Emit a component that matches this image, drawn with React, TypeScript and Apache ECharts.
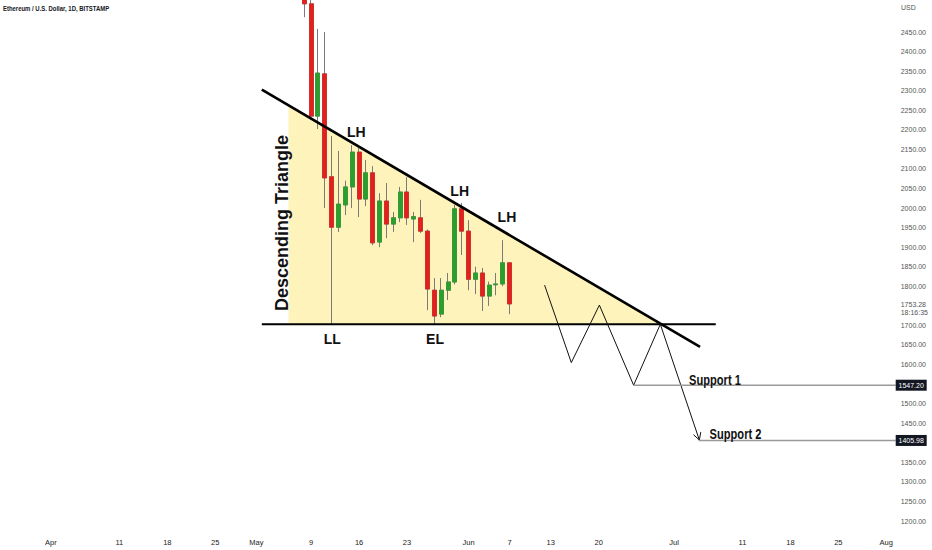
import React, { useEffect, useRef } from "react";
import * as echarts from "echarts";

// ---------- data ----------
const candleDates = [
  "2022-05-08", "2022-05-09", "2022-05-10", "2022-05-11", "2022-05-12", "2022-05-13", "2022-05-14",
  "2022-05-15", "2022-05-16", "2022-05-17", "2022-05-18", "2022-05-19", "2022-05-20", "2022-05-21",
  "2022-05-22", "2022-05-23", "2022-05-24", "2022-05-25", "2022-05-26", "2022-05-27", "2022-05-28",
  "2022-05-29", "2022-05-30", "2022-05-31", "2022-06-01", "2022-06-02", "2022-06-03", "2022-06-04",
  "2022-06-05", "2022-06-06", "2022-06-07",
];
const openPrices = [2640, 2522, 2235, 2343, 2080, 1951, 2008, 2054, 2143, 2023, 2090, 1913, 2018, 1959, 1975, 2041, 1972, 1975, 1941, 1790, 1729, 1790, 1811, 1998, 1941, 1818, 1834, 1775, 1804, 1806, 1860];
const closePrices = [2522, 2235, 2345, 2077, 1951, 2010, 2054, 2143, 2023, 2090, 1911, 2018, 1959, 1975, 2041, 1975, 1978, 1941, 1793, 1724, 1790, 1811, 1998, 1941, 1818, 1834, 1775, 1803, 1806, 1860, 1755];
const lowPrices = [2488, 2225, 2202, 2000, 1701, 1939, 1982, 2000, 1977, 2005, 1905, 1900, 1923, 1939, 1964, 1957, 1913, 1936, 1739, 1704, 1721, 1765, 1805, 1880, 1790, 1780, 1737, 1750, 1777, 1800, 1729];
const highPrices = [2650, 2535, 2458, 2450, 2184, 2146, 2070, 2161, 2153, 2123, 2107, 2038, 2064, 1990, 2054, 2079, 1990, 2021, 1945, 1821, 1821, 1834, 2008, 2013, 1969, 1850, 1847, 1812, 1834, 1918, 1860];

const xTickDates = [
  "2022-04-01", "2022-04-11", "2022-04-18", "2022-04-25", "2022-05-01", "2022-05-09", "2022-05-16",
  "2022-05-23", "2022-06-01", "2022-06-07", "2022-06-13", "2022-06-20", "2022-07-01", "2022-07-11",
  "2022-07-18", "2022-07-25", "2022-08-01",
];
const xTickLabels = ["Apr", "11", "18", "25", "May", "9", "16", "23", "Jun", "7", "13", "20", "Jul", "11", "18", "25", "Aug"];
const hiddenYLabels = [2500, 1750, 1550, 1400, 1150];

// drawings, as [day offset from Apr 1, price]
const trendLine = [[30.8, 2302.6], [94.8, 1645]];
const baseLine = [[30.8, 1703], [97.1, 1703]];
const triangleFill = [[34.7, 2262.5], [34.7, 1703], [89.0, 1703]];
const projectionPath = [[72.1, 1803], [76.0, 1605], [80.1, 1752], [85.1, 1547.2], [89.0, 1703], [94.7, 1407]];

const supportStartDays = [85.1, 94.6];
const supportPrices = [1547.2, 1405.98];
const supportBoxLabels = ["1547.20", "1405.98"];

const swingTexts = ["LH", "LH", "LH", "LL", "EL"];
const swingDays = [44.6, 59.7, 66.6, 41.1, 56.1];
const swingPrices = [2194, 2044, 1976, 1665, 1665];

const supportTexts = ["Support 1", "Support 2"];
const supportTextDays = [93.2, 96.2];
const supportTextPrices = [1562, 1422];

const patternTitle = ["Descending Triangle"];
const patternTitleDay = [33.8];
const patternTitlePrice = [1962];

const lastPrice = [1753.28];
const lastPriceText = ["1753.28"];
const countdownText = ["18:16:35"];

// ---------- helpers ----------
const START = Date.UTC(2022, 3, 1);
const dayOf = (s: string) => (Date.parse(s) - START) / 86400000;
const xTickDays = xTickDates.map(dayOf);

const GREEN = "#2aa02c";
const RED = "#e3201b";

export default function App() {
  const ref = useRef<HTMLDivElement>(null);

  useEffect(() => {
    if (!ref.current) return;
    const chart = echarts.init(ref.current, null, { renderer: "svg" });

    const candleData = candleDates.map((d, i) => [dayOf(d), openPrices[i], closePrices[i], lowPrices[i], highPrices[i]]);
    const bodyData = candleDates.map((d, i) => [
      dayOf(d),
      openPrices[i],
      closePrices[i],
      Math.min(openPrices[i], closePrices[i]),
      Math.max(openPrices[i], closePrices[i]),
    ]);

    const empty = { type: "group", children: [] };

    const option: any = {
      animation: false,
      backgroundColor: "#ffffff",
      graphic: [
        {
          type: "text",
          x: 3,
          y: 8,
          scaleX: 0.85,
          style: {
            text: "Ethereum / U.S. Dollar, 1D, BITSTAMP",
            fontSize: 7,
            fontWeight: "bold",
            fill: "#131722",
            fontFamily: "Arial, sans-serif",
            verticalAlign: "middle",
          },
        },
        {
          type: "text",
          x: 901,
          y: 7.5,
          style: { text: "USD", fontSize: 7, fill: "#555", fontFamily: "Arial, sans-serif", verticalAlign: "middle" },
        },
      ],
      grid: { left: 0, top: 0, width: 889.7, height: 540.6, containLabel: false },
      xAxis: {
        type: "value",
        min: -7,
        max: 122.5,
        interval: 1,
        offset: -2,
        axisLine: { show: false },
        axisTick: { show: false },
        splitLine: { show: false },
        axisLabel: {
          margin: 0,
          fontSize: 7.5,
          color: "#222",
          fontFamily: "Arial, sans-serif",
          formatter: (v: number) => {
            if (Math.abs(v - Math.round(v)) > 1e-6) return "";
            const i = xTickDays.indexOf(Math.round(v));
            return i >= 0 ? xTickLabels[i] : "";
          },
        },
      },
      yAxis: {
        type: "value",
        position: "right",
        min: 1150,
        max: 2531.8,
        interval: 50,
        axisLine: { show: false },
        axisTick: { show: false },
        splitLine: { show: false },
        axisLabel: {
          margin: 11,
          fontSize: 7,
          color: "#555",
          fontFamily: "Arial, sans-serif",
          formatter: (v: number) =>
            Math.abs(v % 50) > 1e-6 || hiddenYLabels.indexOf(v) >= 0 ? "" : v.toFixed(2),
        },
      },
      series: [
        {
          type: "custom",
          name: "triangle",
          silent: true,
          z: 1,
          data: triangleFill,
          renderItem: (params: any, api: any) => {
            if (params.dataIndex !== 0) return empty;
            const pts = triangleFill.map((p) => api.coord(p));
            return { type: "polygon", shape: { points: pts }, style: { fill: "#fdf3bb" } };
          },
        },
        {
          type: "candlestick",
          name: "wicks",
          z: 2,
          barWidth: 4.5,
          encode: { x: 0, y: [1, 2, 3, 4] },
          data: candleData,
          itemStyle: { color: GREEN, color0: RED, borderColor: "#7a7a7a", borderColor0: "#7a7a7a", borderWidth: 1 },
        },
        {
          type: "candlestick",
          name: "bodies",
          z: 3,
          barWidth: 4.5,
          encode: { x: 0, y: [1, 2, 3, 4] },
          data: bodyData,
          itemStyle: { color: GREEN, color0: RED, borderColor: GREEN, borderColor0: RED, borderWidth: 0.6 },
        },
        {
          type: "line",
          name: "trend",
          z: 4,
          silent: true,
          symbol: "none",
          data: trendLine,
          lineStyle: { color: "#000", width: 2.6 },
        },
        {
          type: "line",
          name: "base",
          z: 4,
          silent: true,
          symbol: "none",
          data: baseLine,
          lineStyle: { color: "#000", width: 2 },
        },
        {
          type: "custom",
          name: "projection",
          z: 5,
          silent: true,
          data: projectionPath,
          renderItem: (params: any, api: any) => {
            if (params.dataIndex !== 0) return empty;
            const pts = projectionPath.map((p) => api.coord(p));
            const n = pts.length;
            const [tx, ty] = pts[n - 1];
            const [px, py] = pts[n - 2];
            const ang = Math.atan2(ty - py, tx - px);
            const L = 8;
            const sp = 0.5;
            const a1 = [tx - L * Math.cos(ang - sp), ty - L * Math.sin(ang - sp)];
            const a2 = [tx - L * Math.cos(ang + sp), ty - L * Math.sin(ang + sp)];
            return {
              type: "group",
              children: [
                { type: "polyline", shape: { points: pts }, style: { stroke: "#111", lineWidth: 1, fill: null } },
                { type: "polyline", shape: { points: [a1, [tx, ty], a2] }, style: { stroke: "#111", lineWidth: 1, fill: null } },
              ],
            };
          },
        },
        {
          type: "custom",
          name: "supports",
          z: 5,
          silent: true,
          data: supportPrices.map((p, i) => [supportStartDays[i], p]),
          renderItem: (params: any, api: any) => {
            const i = params.dataIndex;
            const [x0, y0] = api.coord([supportStartDays[i], supportPrices[i]]);
            const right = params.coordSys.x + params.coordSys.width;
            const bx = right + 6;
            return {
              type: "group",
              children: [
                { type: "line", shape: { x1: x0, y1: y0, x2: bx, y2: y0 }, style: { stroke: "#9a9a9a", lineWidth: 1.6 } },
                { type: "rect", shape: { x: bx, y: y0 - 5.5, width: 31, height: 11 }, style: { fill: "#131722" } },
                {
                  type: "text",
                  x: bx + 15.5,
                  y: y0,
                  style: { text: supportBoxLabels[i], fill: "#fff", fontSize: 7, fontFamily: "Arial, sans-serif", align: "center", verticalAlign: "middle" },
                },
              ],
            };
          },
        },
        {
          type: "custom",
          name: "lastPrice",
          z: 5,
          silent: true,
          data: lastPrice.map((p) => [122, p]),
          renderItem: (params: any, api: any) => {
            const i = params.dataIndex;
            const y0 = api.coord([0, lastPrice[i]])[1];
            const right = params.coordSys.x + params.coordSys.width;
            const st = { fill: "#555", fontSize: 7, fontFamily: "Arial, sans-serif", align: "left", verticalAlign: "middle" };
            return {
              type: "group",
              children: [
                { type: "text", x: right + 11, y: y0, style: { ...st, text: lastPriceText[i] } },
                { type: "text", x: right + 11, y: y0 + 8, style: { ...st, text: countdownText[i] } },
              ],
            };
          },
        },
        {
          type: "custom",
          name: "swings",
          z: 6,
          silent: true,
          data: swingDays.map((d, i) => [d, swingPrices[i]]),
          renderItem: (params: any, api: any) => {
            const i = params.dataIndex;
            const [x, y] = api.coord([swingDays[i], swingPrices[i]]);
            return {
              type: "text",
              x,
              y,
              style: {
                text: swingTexts[i],
                fill: "#111",
                fontSize: 14,
                fontWeight: "bold",
                fontFamily: "Arial, sans-serif",
                align: "center",
                verticalAlign: "middle",
              },
            };
          },
        },
        {
          type: "custom",
          name: "supportTexts",
          z: 6,
          silent: true,
          data: supportTextDays.map((d, i) => [d, supportTextPrices[i]]),
          renderItem: (params: any, api: any) => {
            const i = params.dataIndex;
            const [x, y] = api.coord([supportTextDays[i], supportTextPrices[i]]);
            return {
              type: "text",
              x,
              y,
              scaleX: 0.74,
              style: {
                text: supportTexts[i],
                fill: "#111",
                fontSize: 15,
                fontWeight: "bold",
                fontFamily: "Arial, sans-serif",
                align: "left",
                verticalAlign: "middle",
              },
            };
          },
        },
        {
          type: "custom",
          name: "patternTitle",
          z: 6,
          silent: true,
          data: patternTitleDay.map((d, i) => [d, patternTitlePrice[i]]),
          renderItem: (params: any, api: any) => {
            const i = params.dataIndex;
            const [x, y] = api.coord([patternTitleDay[i], patternTitlePrice[i]]);
            return {
              type: "text",
              x,
              y,
              rotation: Math.PI / 2,
              style: {
                text: patternTitle[i],
                fill: "#111",
                fontSize: 18,
                fontWeight: "bold",
                fontFamily: "Arial, sans-serif",
                align: "center",
                verticalAlign: "middle",
              },
            };
          },
        },
      ],
    };

    chart.setOption(option);
    return () => chart.dispose();
  }, []);

  return <div ref={ref} style={{ position: "fixed", left: 0, top: 0, width: 932, height: 550, background: "#fff" }} />;
}
